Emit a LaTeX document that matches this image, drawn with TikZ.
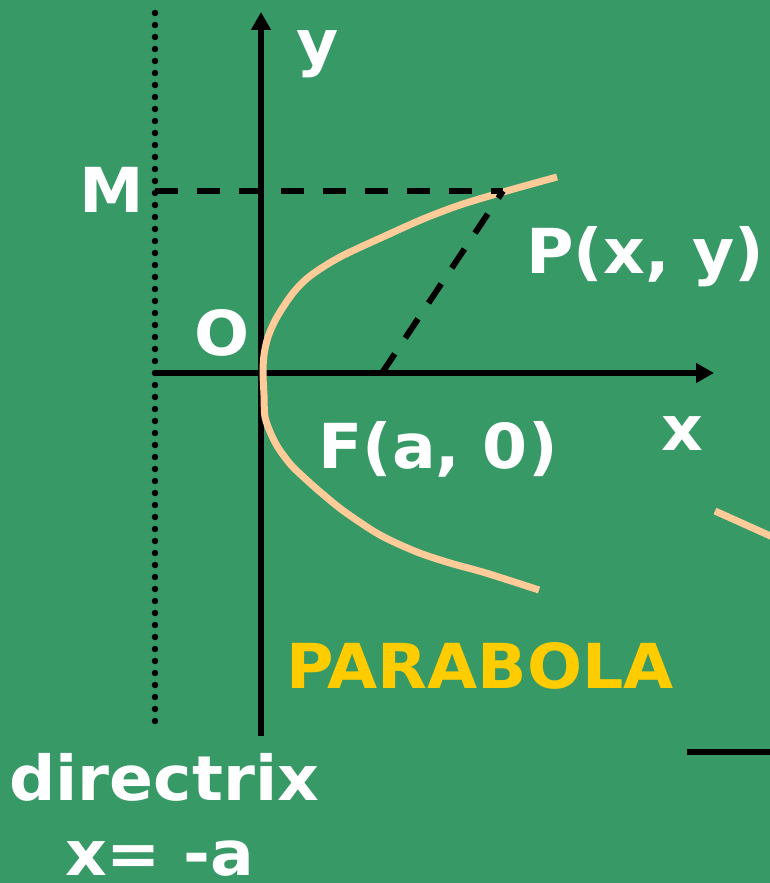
\documentclass[tikz,border=0pt]{standalone}
\usepackage{fontspec}
\setmainfont{DejaVu Sans}[FakeStretch=1.045]
\usetikzlibrary{arrows.meta}
\definecolor{bggreen}{HTML}{369966}
\definecolor{peach}{HTML}{FFCC99}
\definecolor{gold}{HTML}{FFCC00}
\tikzset{
  lbl/.style={text=white, font=\fontsize{62}{62}\selectfont\bfseries, inner sep=0pt, anchor=base west},
  axis/.style={line width=6.5pt, -{Triangle[length=18pt,width=19pt]}},
  dashln/.style={line width=6pt, dash pattern=on 23pt off 19pt},
  dotln/.style={line width=6.5pt, line cap=round, dash pattern=on 0pt off 12pt},
  curve/.style={peach, line width=7pt},
}
\begin{document}
\begin{tikzpicture}[x=1pt,y=-1pt]
\fill[bggreen] (0,0) rectangle (770,883);
\useasboundingbox (0,0) rectangle (770,883);
% key points
\coordinate (dtop) at (155,13);
\coordinate (dbot) at (155,721);
\coordinate (ybot) at (261,736);
\coordinate (ytop) at (261,12);
\coordinate (xleft) at (155,373);
\coordinate (xright) at (714,373);
\coordinate (Mpt) at (155,191);
\coordinate (Ppt) at (503,191);
\coordinate (Fpt) at (382,373);
% directrix
\draw[dotln] (dtop) -- (dbot);
% axes
\draw[axis] (ybot) -- (ytop);
\draw[axis] (xleft) -- (xright);
% parabola
\draw[curve] plot[smooth, tension=0.5] coordinates {
 (557,177) (503,192) (460,205) (423,219) (385,236) (340,257) (310,276)
 (293,293) (277,317) (268,337) (264,355) (263,373) (264,395) (265,417)
 (271,434) (279,449) (292,466) (310,483) (325,496) (345,512) (380,535)
 (417,552) (450,563) (486,573) (539,590)};
% dashed lines
\draw[dashln] (Mpt) -- (Ppt);
\draw[dashln] (Fpt) -- (Ppt);
% right edge fragments
\coordinate (c1) at (715,511);
\coordinate (c2) at (775,538);
\draw[curve] (c1) -- (c2);
\coordinate (b1) at (687,752);
\coordinate (b2) at (775,752);
\draw[line width=6.5pt] (b1) -- (b2);
% labels
\node[lbl] (ylab) at (296,65) {y};
\node[lbl] (Mlab) at (79,212) {M};
\node[lbl] (Olab) at (194,355) {O};
\node[lbl] (Plab) at (526,273) {P(x, y)};
\node[lbl] (Flab) at (318,468) {F(a, 0)};
\node[lbl] (xlab) at (661,450) {x};
\node[lbl, text=gold] (parab) at (286,688) {PARABOLA};
\node[lbl] (dirl) at (9,800) {directrix};
\node[lbl] (dire) at (65,875) {x= -a};
\end{tikzpicture}
\end{document}
